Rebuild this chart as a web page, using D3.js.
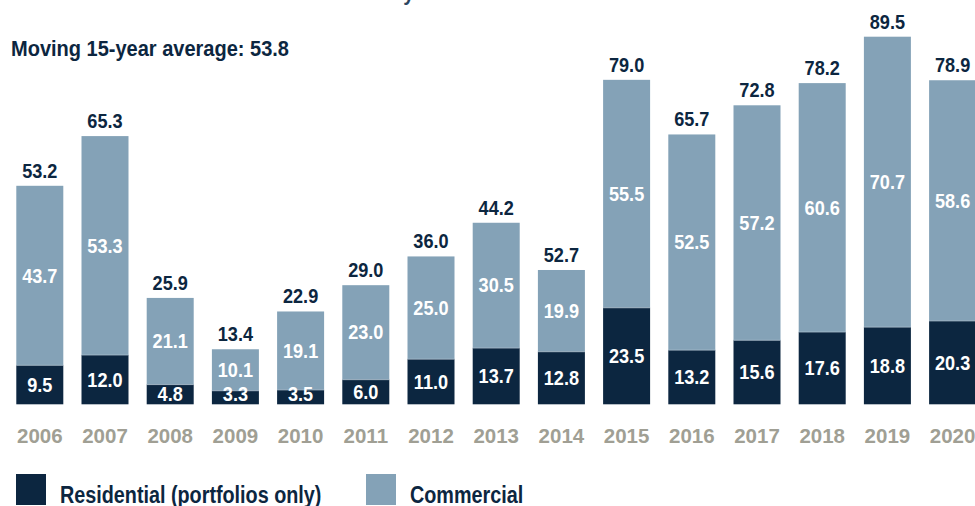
<!DOCTYPE html>
<html>
<head>
<meta charset="utf-8">
<script src="https://cdn.jsdelivr.net/npm/d3@7"></script>
<style>
  html, body { margin: 0; padding: 0; background: #fff; }
  svg { display: block; }
  text { font-family: "Liberation Sans", Arial, sans-serif; font-weight: bold; }
</style>
</head>
<body>
<svg id="chart" width="975" height="506"></svg>
<script>
const years = ["2006","2007","2008","2009","2010","2011","2012","2013","2014","2015","2016","2017","2018","2019","2020"];
const residential = [9.5, 12.0, 4.8, 3.3, 3.5, 6.0, 11.0, 13.7, 12.8, 23.5, 13.2, 15.6, 17.6, 18.8, 20.3];
const commercial  = [43.7, 53.3, 21.1, 10.1, 19.1, 23.0, 25.0, 30.5, 19.9, 55.5, 52.5, 57.2, 60.6, 70.7, 58.6];
const totalLabels = ["53.2","65.3","25.9","13.4","22.9","29.0","36.0","44.2","52.7","79.0","65.7","72.8","78.2","89.5","78.9"];
const seriesNames = ["Residential (portfolios only)", "Commercial"];
const titleText = "Transaction volume in € billion in Germany";
const subtitleText = "Moving 15-year average: 53.8";

const colors = { res: "#0c2640", com: "#84a2b7", year: "#a09f94", sep: "#a9bccb" };

const svg = d3.select("#chart");

const xPos = d3.scaleBand().domain(years).range([7.2, 7.2 + 65.2 * 15]).padding(0);
const y = d3.scaleLinear().domain([0, 89.5]).range([404.3, 36.7]);

const data = years.map((yr, i) => ({ yr, res: residential[i], com: commercial[i], lab: totalLabels[i] }));
const barW = 47;
const bx = d => xPos(d.yr) + (xPos.step() - barW) / 2;
const cx = d => bx(d) + barW / 2;

const numSize = 19.5, numScale = 0.93;

const g = svg.append("g");

g.selectAll("rect.com").data(data).join("rect")
  .attr("class", "com")
  .attr("x", bx).attr("width", barW)
  .attr("y", d => y(d.res + d.com))
  .attr("height", d => y(d.res) - y(d.res + d.com))
  .attr("fill", colors.com);

g.selectAll("rect.res").data(data).join("rect")
  .attr("class", "res")
  .attr("x", bx).attr("width", barW)
  .attr("y", d => y(d.res))
  .attr("height", d => y(0) - y(d.res))
  .attr("fill", colors.res);

g.selectAll("line.sep").data(data).join("line")
  .attr("x1", bx).attr("x2", d => bx(d) + barW)
  .attr("y1", d => y(d.res)).attr("y2", d => y(d.res))
  .attr("stroke", colors.sep).attr("stroke-width", 0.8);

// total labels (positioned on the stacked top)
g.selectAll("text.tot").data(data).join("text")
  .attr("transform", d => `translate(${cx(d)},${y(d.res + d.com) - 8}) scale(${numScale},1)`)
  .attr("text-anchor", "middle")
  .attr("font-size", numSize)
  .attr("fill", colors.res)
  .text(d => d.lab);

// commercial labels
g.selectAll("text.comlab").data(data).join("text")
  .attr("transform", d => `translate(${cx(d)},${(y(d.res) + y(d.res + d.com)) / 2}) scale(${numScale},1)`)
  .attr("dy", "0.36em")
  .attr("text-anchor", "middle")
  .attr("font-size", numSize)
  .attr("fill", "#fff")
  .text(d => d.com.toFixed(1));

// residential labels
g.selectAll("text.reslab").data(data).join("text")
  .attr("transform", d => `translate(${cx(d)},${Math.min((y(0) + y(d.res)) / 2, y(0) - 10.5)}) scale(${numScale},1)`)
  .attr("dy", "0.36em")
  .attr("text-anchor", "middle")
  .attr("font-size", numSize)
  .attr("fill", "#fff")
  .text(d => d.res.toFixed(1));

// x axis labels
const xAxis = d3.axisBottom(xPos).tickSize(0).tickPadding(0);
const ax = svg.append("g").attr("transform", "translate(0,443)").call(xAxis);
ax.select(".domain").remove();
ax.selectAll("text")
  .attr("y", 0).attr("dy", 0)
  .attr("font-size", 20.5)
  .attr("fill", colors.year)
  .attr("font-family", null);

// cut-off title and subtitle
svg.append("text").attr("transform", "translate(11,-0.3) scale(0.9,1)").attr("font-size", 22).attr("fill", "#2b4660").text(titleText);
svg.append("text").attr("transform", "translate(11,56) scale(0.91,1)").attr("font-size", 22).attr("fill", "#0c2640").text(subtitleText);

// legend
const legendItems = [
  { name: seriesNames[0], color: colors.res, x: 16 },
  { name: seriesNames[1], color: colors.com, x: 366 }
];
const lg = svg.append("g").selectAll("g").data(legendItems).join("g")
  .attr("transform", d => `translate(${d.x},474)`);
lg.append("rect").attr("width", 30).attr("height", 31).attr("fill", d => d.color);
lg.append("text").attr("transform", "translate(44,29.3) scale(0.86,1)").attr("font-size", 23).attr("fill", "#0c2640").text(d => d.name);
</script>
</body>
</html>
